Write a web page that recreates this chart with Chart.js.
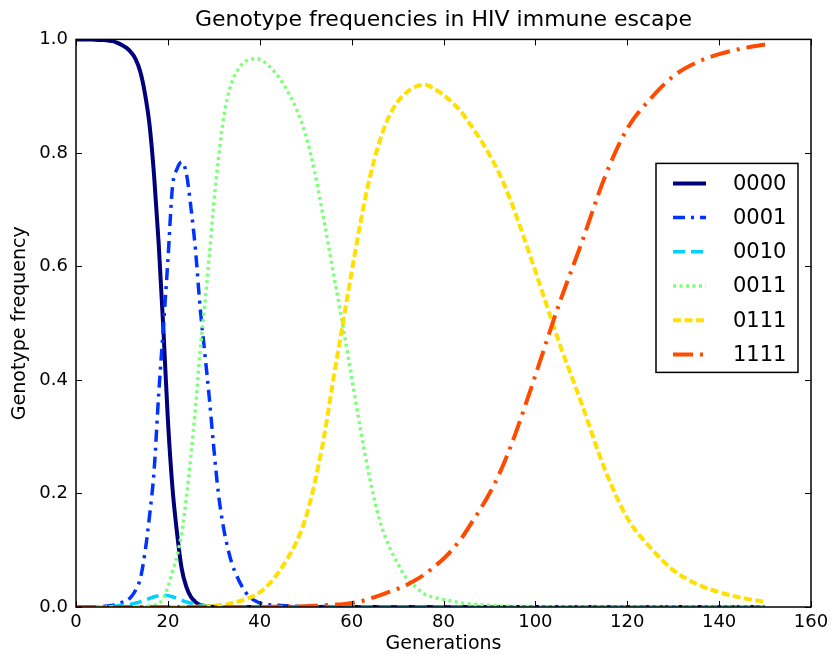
<!DOCTYPE html>
<html>
<head>
<meta charset="utf-8">
<script src="https://cdn.jsdelivr.net/npm/chart.js@4/dist/chart.umd.min.js"></script>
<style>
  html, body { margin: 0; padding: 0; background: #fff; }
  #wrap { width: 835px; height: 655px; }
</style>
</head>
<body>
<div id="wrap"><canvas id="chart" width="835" height="655"></canvas></div>
<script>
// generations sampled (denser where the early genotypes move fast)
const gens = [
  0, 1, 2, 3, 4, 5, 6, 7, 8, 9, 10, 11, 12, 13, 14, 15, 16, 17, 18, 19,
  20, 21, 22, 23, 24, 25, 26, 27, 28, 29, 30, 31, 32, 33, 34, 35, 36, 37, 38, 39, 40,
  42, 44, 46, 48, 50, 52, 54, 56, 58, 60, 62, 64, 66, 68, 70, 72, 74, 76, 78, 80,
  82, 84, 86, 88, 90, 92, 94, 96, 98, 100,
  105, 110, 115, 120, 125, 130, 135, 140, 145, 150
];

const freq0000 = [
  1.0, 1.0, 1.0, 1.0, 0.9995, 0.999, 0.999, 0.998, 0.997, 0.994,
  0.99, 0.985, 0.977, 0.965, 0.943, 0.905, 0.85, 0.76, 0.64, 0.493,
  0.33, 0.21, 0.13, 0.068, 0.036, 0.018, 0.009, 0.004, 0.002, 0.001,
  0.0005, 0.0002, 0, 0, 0, 0, 0, 0, 0, 0,
  0,
  0, 0, 0, 0, 0, 0, 0, 0, 0, 0, 0, 0, 0, 0, 0, 0, 0, 0, 0, 0,
  0, 0, 0, 0, 0, 0, 0, 0, 0, 0,
  0, 0, 0, 0, 0, 0, 0, 0, 0, 0
];
const freq0001 = [
  0, 0, 0, 0, 0.0002, 0.0005, 0.001, 0.002, 0.003, 0.005,
  0.008, 0.011, 0.018, 0.03, 0.05, 0.095, 0.16, 0.24, 0.375, 0.49,
  0.61, 0.74, 0.772, 0.784, 0.765, 0.705, 0.63, 0.53, 0.45, 0.37,
  0.28, 0.2, 0.145, 0.105, 0.075, 0.055, 0.038, 0.025, 0.016, 0.011,
  0.007,
  0.004, 0.003, 0.002, 0.0015, 0.001, 0.001, 0.0008, 0.0006, 0.0005, 0.0004,
  0.0003, 0.0002, 0.0002, 0.0001, 0, 0, 0, 0, 0, 0,
  0, 0, 0, 0, 0, 0, 0, 0, 0, 0,
  0, 0, 0, 0, 0, 0, 0, 0, 0, 0
];
const freq0010 = [
  0, 0, 0, 0, 0, 0, 0.0003, 0.0006, 0.001, 0.002,
  0.003, 0.004, 0.005, 0.007, 0.009, 0.012, 0.015, 0.018, 0.02, 0.021,
  0.02, 0.018, 0.015, 0.012, 0.009, 0.007, 0.005, 0.003, 0.002, 0.0015,
  0.001, 0.0008, 0.0006, 0.0005, 0.0004, 0.0003, 0.0002, 0.0002, 0.0001, 0.0001,
  0.0001,
  0, 0, 0, 0, 0, 0, 0, 0, 0, 0, 0, 0, 0, 0, 0, 0, 0, 0, 0, 0,
  0, 0, 0, 0, 0, 0, 0, 0, 0, 0,
  0, 0, 0, 0, 0, 0, 0, 0, 0, 0
];
const freq0011 = [
  0, 0, 0, 0, 0, 0, 0, 0, 0, 0,
  0, 0, 0, 0.0003, 0.0005, 0.001, 0.002, 0.003, 0.006, 0.015,
  0.035, 0.063, 0.09, 0.13, 0.19, 0.265, 0.35, 0.45, 0.53, 0.617,
  0.71, 0.79, 0.855, 0.898, 0.926, 0.943, 0.955, 0.962, 0.965, 0.966,
  0.965,
  0.953, 0.935, 0.91, 0.877, 0.832, 0.765, 0.68, 0.59, 0.5, 0.405,
  0.31, 0.225, 0.155, 0.11, 0.077, 0.05, 0.035, 0.022, 0.017, 0.013,
  0.01, 0.007, 0.005, 0.004, 0.003, 0.002, 0.0015, 0.001, 0.001, 0.0005,
  0.0003, 0.0002, 0.0001, 0, 0, 0, 0, 0, 0, 0
];
const freq0111 = [
  0, 0, 0, 0, 0, 0, 0, 0, 0, 0,
  0, 0, 0, 0, 0, 0, 0, 0, 0, 0,
  0, 0, 0, 0, 0, 0.0003, 0.0005, 0.0008, 0.001, 0.0015,
  0.002, 0.003, 0.004, 0.005, 0.007, 0.009, 0.011, 0.014, 0.017, 0.021,
  0.026,
  0.04, 0.06, 0.085, 0.115, 0.157, 0.22, 0.3, 0.4, 0.495, 0.59,
  0.68, 0.758, 0.818, 0.862, 0.89, 0.907, 0.917, 0.92, 0.913, 0.902,
  0.888, 0.871, 0.848, 0.824, 0.797, 0.766, 0.729, 0.686, 0.639, 0.592,
  0.47, 0.36, 0.245, 0.157, 0.105, 0.065, 0.041, 0.026, 0.016, 0.009
];
const freq1111 = [
  0, 0, 0, 0, 0, 0, 0, 0, 0, 0,
  0, 0, 0, 0, 0, 0, 0, 0, 0, 0,
  0, 0, 0, 0, 0, 0, 0, 0, 0, 0,
  0, 0, 0, 0, 0, 0, 0, 0, 0, 0,
  0,
  0.0003, 0.0005, 0.0008, 0.001, 0.0015, 0.002, 0.003, 0.004, 0.005, 0.007,
  0.01, 0.015, 0.02, 0.026, 0.032, 0.039, 0.048, 0.058, 0.071, 0.085,
  0.102, 0.122, 0.147, 0.172, 0.2, 0.232, 0.27, 0.313, 0.36, 0.408,
  0.53, 0.64, 0.755, 0.843, 0.895, 0.935, 0.959, 0.974, 0.984, 0.991
];

const xTicks = [0, 20, 40, 60, 80, 100, 120, 140, 160];
const yTicks = [0.0, 0.2, 0.4, 0.6, 0.8, 1.0];

const FONT = "'DejaVu Sans', sans-serif";

const series = [
  { label: '0000', data: freq0000, color: '#00007a', width: 4,   dash: [] },
  { label: '0001', data: freq0001, color: '#0033ff', width: 3.5, dash: [12, 6, 3, 6] },
  { label: '0010', data: freq0010, color: '#00d2ff', width: 3.5, dash: [12, 6] },
  { label: '0011', data: freq0011, color: '#7cff79', width: 3.5, dash: [3, 3.5] },
  { label: '0111', data: freq0111, color: '#ffe000', width: 4,   dash: [8, 3.5] },
  { label: '1111', data: freq1111, color: '#ff4a00', width: 4,   dash: [20, 7, 3, 7] }
];

const datasets = series.map((s, i) => ({
  label: s.label,
  data: gens.map((g, j) => ({ x: g, y: s.data[j] })),
  borderColor: s.color,
  borderWidth: s.width,
  borderDash: s.dash,
  borderCapStyle: 'butt',
  pointRadius: 0,
  fill: false,
  cubicInterpolationMode: 'monotone',
  clip: 0,
  order: series.length - i   // later genotypes drawn on top, like the original
}));

// frame + inward tick marks on all four sides
const framePlugin = {
  id: 'frame',
  afterDatasetsDraw(chart) {
    const { ctx, chartArea: a, scales } = chart;
    ctx.save();
    ctx.strokeStyle = '#000';
    ctx.lineWidth = 1.5;
    ctx.strokeRect(a.left, a.top, a.right - a.left, a.bottom - a.top);
    ctx.lineWidth = 1;
    const len = 6;
    ctx.beginPath();
    xTicks.forEach(v => {
      const px = Math.round(scales.x.getPixelForValue(v)) + 0.5;
      ctx.moveTo(px, a.bottom); ctx.lineTo(px, a.bottom - len);
      ctx.moveTo(px, a.top); ctx.lineTo(px, a.top + len);
    });
    yTicks.forEach(v => {
      const py = Math.round(scales.y.getPixelForValue(v)) + 0.5;
      ctx.moveTo(a.left, py); ctx.lineTo(a.left + len, py);
      ctx.moveTo(a.right, py); ctx.lineTo(a.right - len, py);
    });
    ctx.stroke();
    ctx.restore();
  }
};

// boxed legend at the right side of the plot
const legendPlugin = {
  id: 'boxLegend',
  afterDraw(chart) {
    const { ctx, chartArea: a } = chart;
    const w = 142, h = 209;
    const left = a.right - 13 - w;
    const top = a.top + 124;
    ctx.save();
    ctx.fillStyle = '#fff';
    ctx.fillRect(left, top, w, h);
    ctx.strokeStyle = '#000';
    ctx.lineWidth = 1.5;
    ctx.strokeRect(left, top, w, h);
    ctx.font = '21px ' + FONT;
    ctx.textBaseline = 'middle';
    ctx.textAlign = 'left';
    chart.data.datasets.forEach((ds, i) => {
      const y = top + 20 + i * 34.2;
      ctx.beginPath();
      ctx.strokeStyle = ds.borderColor;
      ctx.lineWidth = ds.borderWidth;
      ctx.lineCap = 'butt';
      ctx.setLineDash(ds.borderDash);
      ctx.moveTo(left + 17, y);
      ctx.lineTo(left + 50, y);
      ctx.stroke();
      ctx.setLineDash([]);
      ctx.fillStyle = '#000';
      ctx.fillText(ds.label, left + 77, y + 1);
    });
    ctx.restore();
  }
};

new Chart(document.getElementById('chart').getContext('2d'), {
  type: 'line',
  data: { datasets },
  options: {
    responsive: false,
    animation: false,
    layout: { padding: { left: 0, right: 24, top: 0, bottom: 0 } },
    plugins: {
      legend: { display: false },
      tooltip: { enabled: false },
      title: {
        display: true,
        text: 'Genotype frequencies in HIV immune escape',
        fullSize: false,
        color: '#000',
        font: { family: FONT, size: 22, weight: 'normal', lineHeight: 1.2 },
        padding: { top: 7, bottom: 6 }
      }
    },
    scales: {
      x: {
        type: 'linear',
        min: 0,
        max: 160,
        afterBuildTicks: s => { s.ticks = xTicks.map(v => ({ value: v })); },
        ticks: {
          color: '#000',
          font: { family: FONT, size: 18 },
          padding: 5,
          maxRotation: 0,
          autoSkip: false
        },
        grid: { display: false, drawTicks: false },
        border: { display: false },
        title: {
          display: true,
          text: 'Generations',
          color: '#000',
          font: { family: FONT, size: 19, lineHeight: 1.15 },
          padding: { top: 0, bottom: 0 }
        },
        afterFit: s => { s.height = 48; }
      },
      y: {
        min: 0,
        max: 1,
        afterBuildTicks: s => { s.ticks = yTicks.map(v => ({ value: v })); },
        ticks: {
          color: '#000',
          font: { family: FONT, size: 18 },
          padding: 8,
          callback: v => Number(v).toFixed(1)
        },
        grid: { display: false, drawTicks: false },
        border: { display: false },
        title: {
          display: true,
          text: 'Genotype frequency',
          color: '#000',
          font: { family: FONT, size: 19, lineHeight: 1.2 },
          padding: { top: 9, bottom: 0 }
        },
        afterFit: s => { s.width = 76; }
      }
    }
  },
  plugins: [framePlugin, legendPlugin]
});
</script>
</body>
</html>
